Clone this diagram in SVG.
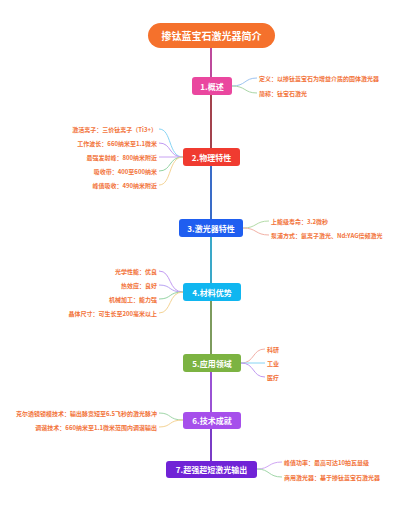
<svg xmlns="http://www.w3.org/2000/svg" width="400" height="505" viewBox="0 0 400 505">
<style>
.node text{font-family:"Noto Sans CJK SC","Noto Sans",sans-serif;font-weight:bold;fill:#fff;text-anchor:middle;dominant-baseline:central}
.t{font-family:"Noto Sans CJK SC","Noto Sans",sans-serif;font-size:6px;font-weight:bold;fill:#f2733a;dominant-baseline:central}
.l{text-anchor:end}
.c path{fill:none;stroke-width:1}
.trunk line{stroke-width:2}
</style>
<rect width="400" height="505" fill="#fff"/>
<g id="connectors">
<g class="trunk">
<line x1="211" y1="48" x2="211" y2="77" stroke="#bd4a9c"/>
<line x1="211" y1="95" x2="211" y2="148" stroke="#a3434e"/>
<line x1="211" y1="166" x2="211" y2="219" stroke="#3a6cc8"/>
<line x1="211" y1="237" x2="211" y2="283" stroke="#3aa8c8"/>
<line x1="211" y1="301" x2="211" y2="354" stroke="#7d9b5e"/>
<line x1="211" y1="372" x2="211" y2="412" stroke="#9a52d4"/>
<line x1="211" y1="429" x2="211" y2="461" stroke="#7a3cc6"/>
</g>
<g class="c">
<path d="M232 86 C246 86 244 78 257 78" stroke="#9cc3f0"/>
<path d="M232 86 C246 86 244 93 257 93" stroke="#a9d6a6"/>
<path d="M183 157 C168 157 172 129 159 129" stroke="#86d4f4"/>
<path d="M183 157 C168 157 172 143 159 143" stroke="#c09af2"/>
<path d="M183 157 L159 157" stroke="#c8a2f2"/>
<path d="M183 157 C168 157 172 171 159 171" stroke="#94d4a4"/>
<path d="M183 157 C168 157 172 185 159 185" stroke="#f4d394"/>
<path d="M243 228 C257 228 255 221 269 221" stroke="#b4dca8"/>
<path d="M243 228 C257 228 255 235 269 235" stroke="#f2b2a6"/>
<path d="M183 292 C168 292 172 271 159 271" stroke="#c29af2"/>
<path d="M183 292 C168 292 172 285 159 285" stroke="#b8a2f2"/>
<path d="M183 292 C168 292 172 299 159 299" stroke="#94d4a4"/>
<path d="M183 292 C168 292 172 313 159 313" stroke="#f4d394"/>
<path d="M241 363 C255 363 252 349 265 349" stroke="#f2b0a8"/>
<path d="M241 363 L265 363" stroke="#86d4f4"/>
<path d="M241 363 C255 363 252 377 265 377" stroke="#c09af2"/>
<path d="M183 420 C168 420 172 413 159 413" stroke="#a0d6a8"/>
<path d="M183 420 C168 420 172 427 159 427" stroke="#f4d394"/>
<path d="M257 469 C270 469 268 462 282 462" stroke="#d0a6f4"/>
<path d="M257 469 C270 469 268 477 282 477" stroke="#a0d6a8"/>
</g>
</g>
<g id="title" class="node"><rect x="148" y="23" width="127" height="25" rx="12.5" fill="#f5712c"/><text x="211.5" y="35.5" font-size="10">掺钛蓝宝石激光器简介</text></g>
<g id="n1" class="node"><rect x="192" y="77" width="40" height="18" rx="3" fill="#ea479f"/><text x="212" y="86" font-size="8">1.概述</text></g>
<g id="n2" class="node"><rect x="183" y="148" width="57" height="18" rx="3" fill="#f03b30"/><text x="211.5" y="157" font-size="8">2.物理特性</text></g>
<g id="n3" class="node"><rect x="179" y="219" width="64" height="18" rx="3" fill="#1f5ef0"/><text x="211" y="228" font-size="8">3.激光器特性</text></g>
<g id="n4" class="node"><rect x="183" y="283" width="58" height="18" rx="3" fill="#10b6f0"/><text x="212" y="292" font-size="8">4.材料优势</text></g>
<g id="n5" class="node"><rect x="183" y="354" width="58" height="18" rx="3" fill="#7cb342"/><text x="212" y="363" font-size="8">5.应用领域</text></g>
<g id="n6" class="node"><rect x="183" y="412" width="58" height="17" rx="3" fill="#a64feb"/><text x="212" y="420.5" font-size="8">6.技术成就</text></g>
<g id="n7" class="node"><rect x="166" y="461" width="91" height="17" rx="3" fill="#7023d6"/><text x="211.5" y="469.5" font-size="8">7.超强超短激光输出</text></g>
<g id="n1c"><text class="t" x="259" y="78">定义：以掺钛蓝宝石为增益介质的固体激光器</text><text class="t" x="259" y="93">简称：钛宝石激光</text></g>
<g id="n2c"><text class="t l" x="157" y="129">激活离子：三价钛离子（Ti3+）</text><text class="t l" x="157" y="143">工作波长：660纳米至1.1微米</text><text class="t l" x="157" y="157">最强发射峰：800纳米附近</text><text class="t l" x="157" y="171">吸收带：400至600纳米</text><text class="t l" x="157" y="185">峰值吸收：490纳米附近</text></g>
<g id="n3c"><text class="t" x="271" y="221">上能级寿命：3.2微秒</text><text class="t" x="271" y="235">泵浦方式：氩离子激光、Nd:YAG倍频激光</text></g>
<g id="n4c"><text class="t l" x="157" y="271">光学性能：优良</text><text class="t l" x="157" y="285">热效应：良好</text><text class="t l" x="157" y="299">机械加工：能力强</text><text class="t l" x="157" y="313">晶体尺寸：可生长至200毫米以上</text></g>
<g id="n5c"><text class="t" x="267" y="349">科研</text><text class="t" x="267" y="363">工业</text><text class="t" x="267" y="377">医疗</text></g>
<g id="n6c"><text class="t l" x="157" y="413">克尔透镜锁模技术：输出脉宽短至6.5飞秒的激光脉冲</text><text class="t l" x="157" y="427">调谐技术：660纳米至1.1微米范围内调谐输出</text></g>
<g id="n7c"><text class="t" x="284" y="462">峰值功率：最高可达10拍瓦量级</text><text class="t" x="284" y="477">商用激光器：基于掺钛蓝宝石激光器</text></g>
</svg>
